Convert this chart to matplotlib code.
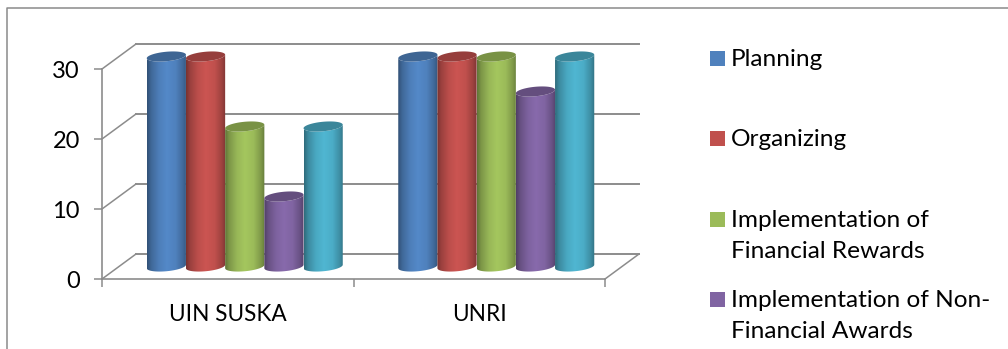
import numpy as np
import matplotlib
matplotlib.use("Agg")
import matplotlib.pyplot as plt
from matplotlib.patches import PathPatch, Rectangle
from matplotlib.path import Path
from matplotlib.colors import to_rgb
from matplotlib.lines import Line2D

categories = ["UIN SUSKA", "UNRI"]
planning = [30, 30]
organizing = [30, 30]
financial_rewards = [20, 30]
non_financial_awards = [10, 25]
fifth_series = [20, 30]

series_values = [planning, organizing, financial_rewards, non_financial_awards, fifth_series]
legend_labels = ["Planning", "Organizing", "Implementation of\nFinancial Rewards",
                 "Implementation of Non-\nFinancial Awards"]
face_colors = ["#4f81bd", "#c0504d", "#9bbb59", "#8064a2", "#4bacc6"]
y_ticks = [0, 10, 20, 30]

W, H = 1008, 349
GRAY = "#8c8c8c"
FONT = "Lato"
plt.rcParams["font.family"] = [FONT, "DejaVu Sans"]

fig = plt.figure(figsize=(W / 100, H / 100), dpi=100, facecolor="white")
ax = fig.add_axes([102 / W, (H - 279) / H, 503 / W, 210 / H])
ax.set_facecolor("none")
ax.set_xlim(-0.5, 1.5)
ax.set_ylim(0, 30)

# Pixel-to-data scales for the oblique projection of the 3-D box
PX = 2.0 / 503
PY = 30.0 / 210
depth_x, depth_y = 34 * PX, 25 * PY
bar_w = 39.2 * PX
ell_h = 9.5 * PY
ell_tilt = 3.5 * PY
n_pts = 60


def blend(c, k):
    """Scale a colour's brightness."""
    return np.clip(np.array(to_rgb(c)) * k, 0, 1)


def shading(c):
    """Horizontal cylinder shading, dark at both edges with a bright centre."""
    stops = np.array([0.0, 0.1, 0.3, 0.5, 0.72, 0.9, 1.0])
    gains = np.array([0.62, 0.80, 0.98, 1.06, 1.0, 0.82, 0.66])
    t = np.linspace(0, 1, 128)
    g = np.interp(t, stops, gains)
    base = np.array(to_rgb(c))
    img = np.clip(base[None, :] * g[:, None], 0, 1)
    return img[None, :, :]


def rim(cx, cy, t):
    return (cx + bar_w / 2 * np.cos(t),
            cy + ell_h / 2 * np.sin(t) + ell_tilt / 2 * np.cos(t))


# Back wall gridlines, side wall diagonals and floor
for v in y_ticks:
    ax.add_line(Line2D([-0.5 + depth_x, 1.5 + depth_x], [v + depth_y, v + depth_y],
                       color=GRAY, lw=1.4, clip_on=False, zorder=1))
    ax.add_line(Line2D([-0.5, -0.5 + depth_x], [v, v + depth_y],
                       color=GRAY, lw=1.1, clip_on=False, zorder=1))
ax.add_line(Line2D([1.5, 1.5 + depth_x], [0, depth_y],
                   color=GRAY, lw=1.1, clip_on=False, zorder=1))

# Cylindrical columns stand halfway into the box
z = 3
n_series = len(series_values)
for g in range(len(categories)):
    for s in range(n_series):
        value = series_values[s][g]
        cx = g + (s - (n_series - 1) / 2) * bar_w + depth_x / 2
        base = depth_y / 2
        top = value + depth_y / 2
        bx, by = rim(cx, base, np.linspace(-np.pi, 0, n_pts))  # front arc on the floor
        tx, ty = rim(cx, top, np.linspace(0, -np.pi, n_pts))   # front arc below the lid
        outline = np.column_stack([np.r_[bx, tx], np.r_[by, ty]])
        body = PathPatch(Path(np.vstack([outline, outline[0]])), transform=ax.transData,
                         fc="none", ec="none")
        ax.add_patch(body)
        im = ax.imshow(shading(face_colors[s]),
                       extent=(cx - bar_w / 2, cx + bar_w / 2, base - ell_h, top + ell_h),
                       aspect="auto", interpolation="bilinear", zorder=z)
        im.set_clip_box(fig.bbox)
        im.set_clip_path(body)
        # Lid of the column
        lx, ly = rim(cx, top, np.linspace(0, 2 * np.pi, 2 * n_pts))
        ax.fill(lx, ly, color=blend(face_colors[s], 0.78), lw=0, zorder=z + 0.5, clip_on=False)
        z += 1

ax.set_xlim(-0.5, 1.5)
ax.set_ylim(0, 30)

# Axes of the front plane
for side in ("top", "right"):
    ax.spines[side].set_visible(False)
for side in ("left", "bottom"):
    ax.spines[side].set_color(GRAY)
    ax.spines[side].set_linewidth(1.2)
    ax.spines[side].set_zorder(2)
ax.set_yticks(y_ticks)
ax.tick_params(axis="y", length=6, width=1.1, color=GRAY, labelsize=17, pad=10, labelcolor="black")
ax.set_xticks([-0.5, 0.5, 1.5])
ax.set_xticklabels([])
ax.tick_params(axis="x", which="major", length=6, width=1.1, color=GRAY)
ax.set_xticks([0, 1], minor=True)
ax.set_xticklabels(categories, minor=True, fontsize=16.3)
ax.tick_params(axis="x", which="minor", length=0, pad=18, labelcolor="black")

# Legend entries, the last ones run off the lower edge of the chart frame
legend_box_tops = [51, 131, 212, 292]
for label, color, top_px in zip(legend_labels, face_colors, legend_box_tops):
    fig.add_artist(Rectangle((710 / W, (H - top_px - 15) / H), 15 / W, 15 / H,
                             transform=fig.transFigure, fc=color, ec="none"))
    fig.text(731 / W, (H - top_px + 2) / H, label, fontsize=17.6, va="top", ha="left",
             color="black", linespacing=1.58)

# Chart frame: only the top and left edges fall inside the crop
fig.add_artist(Line2D([7 / W, 7 / W, 1], [0, (H - 7.5) / H, (H - 7.5) / H],
                      transform=fig.transFigure, color="#8a8a8a", lw=1.1))

fig.savefig("out.png", dpi=100, facecolor="white")
